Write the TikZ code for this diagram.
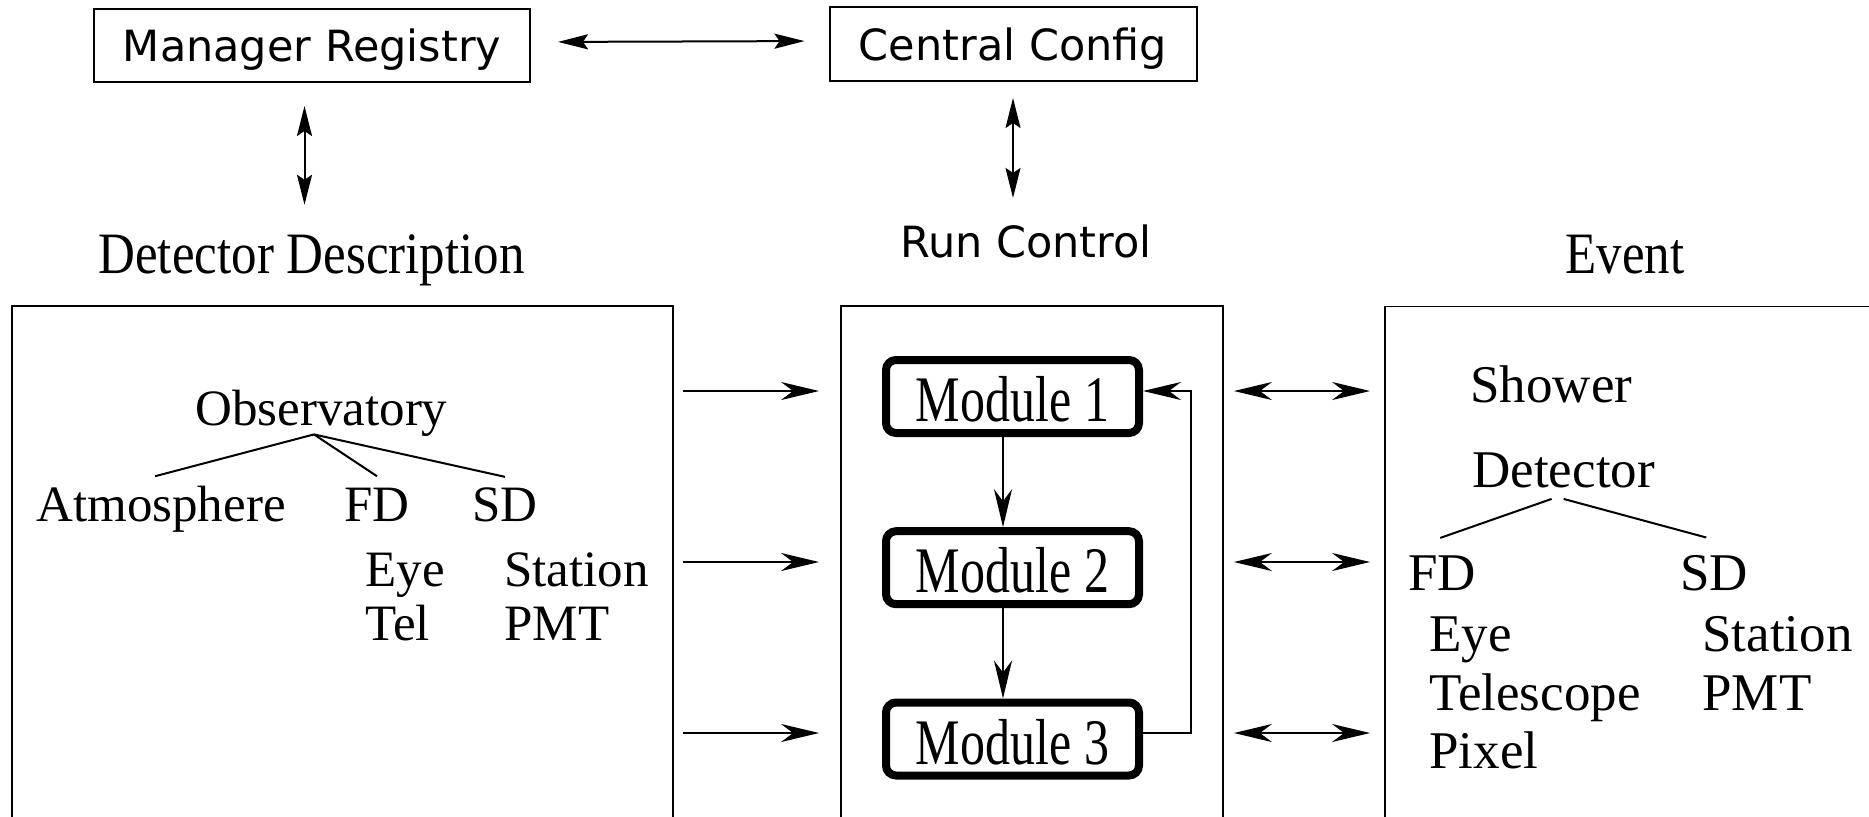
\documentclass[tikz,border=0pt]{standalone}
\usepackage{fontspec}
\setmainfont{Liberation Serif}
\newfontfamily\mysansfam{DejaVu Sans}
\usetikzlibrary{arrows.meta,calc}
\begin{document}
\begin{tikzpicture}[x=0.5pt,y=-0.5pt,
  serif/.style={inner sep=0pt, anchor=base west, font=\fontsize{25.5pt}{30pt}\selectfont},
  rserif/.style={serif, font=\fontsize{26.5pt}{31pt}\selectfont},
  sanslbl/.style={inner sep=0pt, anchor=base, font=\mysansfam\fontsize{21.5pt}{25pt}\selectfont},
  topbox/.style={draw, line width=1pt, inner sep=0pt, font=\mysansfam\fontsize{21.5pt}{25pt}\selectfont,
    text height=16.25pt, text depth=0pt},
  bigbox/.style={draw, line width=0.9pt, inner sep=0pt, minimum height=297pt},
  modbox/.style={draw, line width=4pt, rounded corners=5pt, minimum width=126.5pt, minimum height=36.5pt,
    inner sep=0pt, text height=25pt, text depth=0pt, font=\fontsize{25pt}{30pt}\selectfont},
  arr/.style={line width=1.2pt, -{Stealth[length=19pt,width=9pt,inset=6pt]}},
  darr/.style={line width=1.2pt, {Stealth[length=19pt,width=9pt,inset=6pt]}-{Stealth[length=19pt,width=9pt,inset=6pt]}},
  tarr/.style={line width=1pt, {Stealth[length=15pt,width=7.5pt,inset=2.5pt]}-{Stealth[length=15pt,width=7.5pt,inset=2.5pt]}},
  treeline/.style={line width=1pt}
]
\useasboundingbox (0,0) rectangle (1869,816);
\clip (0,0) rectangle (1869,816);

% top boxes
\node[topbox, minimum width=218pt, minimum height=36.5pt] (mr) at (312,45.5) {Manager Registry};
\node[topbox, minimum width=183.5pt, minimum height=37pt] (cc) at (1013,44) {Central Config};

% headings
\node[serif] (dd) at (98,273) {\scalebox{1}[1.15]{Detector Description}};
\node[sanslbl] (rc) at (1026,257) {Run Control};
\node[serif, anchor=base] (ev) at (1625,273) {\scalebox{1}[1.15]{Event}};

% top arrows
\draw[tarr, shorten <=13.5pt, shorten >=12pt] ([yshift=1.75pt]mr.east) -- ([yshift=1.5pt]cc.west);
\coordinate (v1) at (304.5,0);
\draw[tarr, shorten <=11.5pt, shorten >=14.5pt] (mr.south -| v1) -- (dd.north -| v1);
\draw[tarr, shorten <=8pt, shorten >=13pt] (cc.south) -- (cc.south |- rc.north);

% big boxes
\node[bigbox, minimum width=330.5pt] (lb) at (342.5,603) {};
\node[bigbox, minimum width=191pt] (mb) at (1032,603) {};
\node[bigbox, minimum width=282.5pt] (rb) at (1667.5,603.5) {};

% modules
\node[modbox] (m1) at (1012.5,396.5) {\scalebox{1}[1.3]{Module 1}};
\node[modbox] (m2) at (1012.5,567.7) {\scalebox{1}[1.3]{Module 2}};
\node[modbox] (m3) at (1012.5,739) {\scalebox{1}[1.3]{Module 3}};

\coordinate (a1) at (0,391);
\coordinate (a2) at (0,562);
\coordinate (a3) at (0,733);

\draw[arr] ([xshift=-4.75pt]m1.south) -- ([xshift=-4.75pt]m2.north);
\draw[arr] ([xshift=-4.75pt]m2.south) -- ([xshift=-4.75pt]m3.north);
\draw[arr] (m3.east |- a3) -- ++(48,0) |- (m1.east |- a1);

\foreach \a in {a1,a2,a3}{
  \draw[arr, shorten <=4.5pt, shorten >=10.5pt] (lb.east |- \a) -- (mb.west |- \a);
  \draw[darr, shorten <=5pt, shorten >=7pt] (mb.east |- \a) -- (rb.west |- \a);
}

% left tree
\node[serif] (obs) at (195,425) {Observatory};
\node[serif] (atm) at (36,521) {Atmosphere};
\node[serif] (lfd) at (344,521) {FD};
\node[serif] (lsd) at (472,521) {SD};
\node[serif] (leye) at (365,586) {Eye};
\node[serif] (ltel) at (365,640) {Tel};
\node[serif] (lst) at (504,586) {Station};
\node[serif] (lpmt) at (504,640) {PMT};
\coordinate (oapex) at ([xshift=-3.75pt,yshift=1pt]obs.south);
\draw[treeline] (oapex) -- ([xshift=-3pt,yshift=4.5pt]atm.north);
\draw[treeline] (oapex) -- ([yshift=5.5pt]lfd.north);
\draw[treeline] (oapex) -- ([yshift=5pt]lsd.north);

% right tree
\node[rserif] (sh) at (1470,402) {Shower};
\node[rserif] (det) at (1472,487) {Detector};
\node[rserif] (rfd) at (1408,590) {FD};
\node[rserif] (rsd) at (1680,590) {SD};
\node[rserif] (reye) at (1429,651) {Eye};
\node[rserif] (rtel) at (1429,710) {Telescope};
\node[rserif] (rpix) at (1429,768) {Pixel};
\node[rserif] (rst) at (1702,651) {Station};
\node[rserif] (rpmt) at (1702,710) {PMT};
\draw[treeline] ([xshift=-6pt,yshift=-5.5pt]det.south) -- ([xshift=-1pt,yshift=8.5pt]rfd.north);
\draw[treeline] ([xshift=0pt,yshift=-5.5pt]det.south) -- ([xshift=-4pt,yshift=8.5pt]rsd.north);
\end{tikzpicture}
\end{document}
